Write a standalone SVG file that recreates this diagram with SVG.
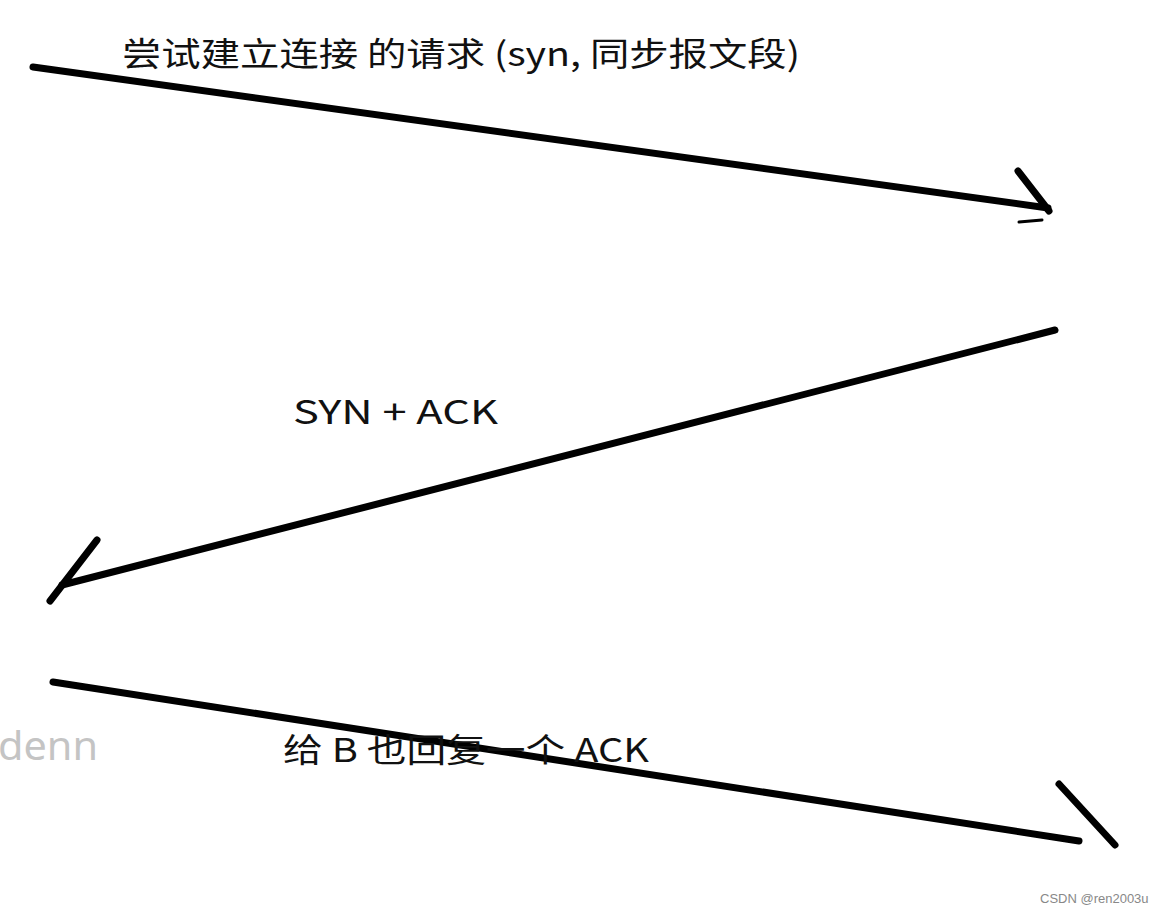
<svg xmlns="http://www.w3.org/2000/svg" width="1164" height="913" viewBox="0 0 1164 913">
<style>
.ln{stroke:#000;stroke-width:7;stroke-linecap:round;fill:none}
.t{font-family:"Noto Sans CJK SC","Liberation Sans",sans-serif;font-size:33px;fill:#111}
</style>
<rect width="1164" height="913" fill="#fff"/>
<g id="connectors">
<path class="ln" d="M33,67 L1048,208"/>
<path class="ln" d="M1018,171 L1049,211"/>
<path class="ln" d="M1019,222 L1042,220" style="stroke-width:3"/>
<path class="ln" d="M1055,330 L62,585"/>
<path class="ln" d="M97,540 L50,601"/>
<path class="ln" d="M53,682 L1079,841"/>
<path class="ln" d="M1059,784 L1115,845"/>
</g>
<g id="label1"><text class="t" x="122" y="66" textLength="678" lengthAdjust="spacingAndGlyphs">尝试建立连接 的请求 (syn, 同步报文段)</text></g>
<g id="label2"><text class="t" x="293" y="424" textLength="205" lengthAdjust="spacingAndGlyphs">SYN + ACK</text></g>
<g id="label3"><text class="t" x="283" y="762" textLength="366" lengthAdjust="spacingAndGlyphs">给 B 也回复一个 ACK</text></g>
<g id="watermark">
<text x="-2" y="760" textLength="100" lengthAdjust="spacingAndGlyphs" style="font-family:'Noto Sans','Liberation Sans',sans-serif;font-size:40px;fill:#c4c4c4">denn</text>
<text x="1040" y="903" style="font-family:'Liberation Sans',sans-serif;font-size:13px;fill:#888">CSDN @ren2003u</text>
</g>
</svg>
